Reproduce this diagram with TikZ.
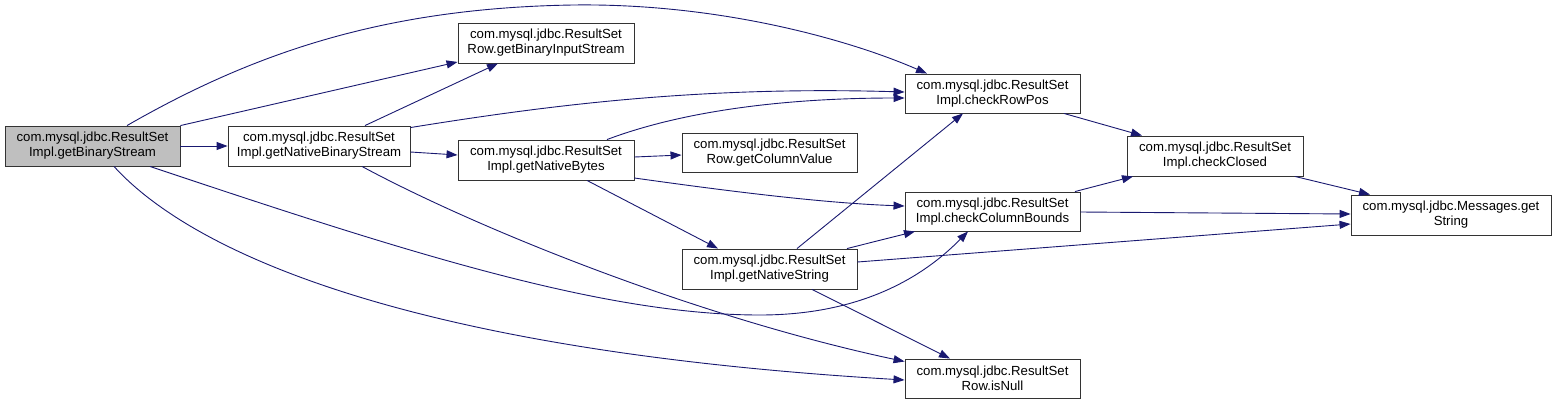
\documentclass[tikz,border=0pt]{standalone}
\usepackage{fontspec}
\setmainfont{Liberation Sans}
\usetikzlibrary{arrows.meta}
\definecolor{edgeblue}{HTML}{191970}
\definecolor{nodegray}{HTML}{BFBFBF}
\begin{document}
\begin{tikzpicture}[x=1pt,y=-1pt,
  fn/.style={draw=black!80, line width=0.9pt, fill=white, minimum height=40pt, inner sep=0pt, align=center, font=\fontsize{13.2}{15}\selectfont},
  edge/.style={draw=edgeblue, line width=0.9pt, -{Triangle[length=11pt,width=8pt]}}]
\useasboundingbox (0,0) rectangle (1556,405);

% nodes
\node[fn, fill=nodegray, minimum width=175pt] (A) at (92.5,146) {com.mysql.jdbc.ResultSet\\Impl.getBinaryStream};
\node[fn, minimum width=182pt] (B) at (319,146) {com.mysql.jdbc.ResultSet\\Impl.getNativeBinaryStream};
\node[fn, minimum width=176pt] (C) at (546,43) {com.mysql.jdbc.ResultSet\\Row.getBinaryInputStream};
\node[fn, minimum width=176pt] (D) at (546,160) {com.mysql.jdbc.ResultSet\\Impl.getNativeBytes};
\node[fn, minimum width=175pt, minimum height=39pt] (E) at (769.5,152.5) {com.mysql.jdbc.ResultSet\\Row.getColumnValue};
\node[fn, minimum width=175pt, minimum height=39pt] (F) at (992.5,93.5) {com.mysql.jdbc.ResultSet\\Impl.checkRowPos};
\node[fn, minimum width=176pt] (G) at (1215,156) {com.mysql.jdbc.ResultSet\\Impl.checkClosed};
\node[fn, minimum width=175pt, minimum height=39pt] (H) at (992.5,211.5) {com.mysql.jdbc.ResultSet\\Impl.checkColumnBounds};
\node[fn, minimum width=200pt] (I) at (1451,215) {com.mysql.jdbc.Messages.get\\String};
\node[fn, minimum width=175pt] (J) at (769.5,269) {com.mysql.jdbc.ResultSet\\Impl.getNativeString};
\node[fn, minimum width=175pt, minimum height=39pt] (K) at (992.5,378.5) {com.mysql.jdbc.ResultSet\\Row.isNull};

% edges from getBinaryStream
\draw[edge] (A.north east) -- ([yshift=1.5pt]C.south west);
\draw[edge] ([xshift=34.5pt]A.north) .. controls (250,55) and (380,8) .. (573,5) .. controls (720,3) and (850,40) .. ([xshift=-65.5pt]F.north);
\draw[edge] (A.east) -- (B.west);
\draw[edge] ([xshift=57.5pt]A.south) .. controls (400,250) and (600,315) .. (760,315) .. controls (870,315) and (930,270) .. ([xshift=-24.5pt]H.south);
\draw[edge] ([xshift=21.5pt]A.south) .. controls (190,250) and (400,350) .. ([yshift=-1.5pt]K.west);

% edges from getNativeBinaryStream
\draw[edge] ([xshift=46pt]B.north) -- ([xshift=-48pt]C.south);
\draw[edge] ([yshift=-2pt]B.north east) .. controls (550,105) and (700,86) .. ([yshift=1.5pt]F.west);
\draw[edge] ([yshift=-6pt]B.east) -- ([yshift=5pt]D.west);
\draw[edge] ([xshift=43pt]B.south) .. controls (480,230) and (700,318) .. ([yshift=17pt]K.west);

% edges from getNativeBytes
\draw[edge] ([xshift=61pt]D.north) .. controls (680,112) and (780,98) .. ([yshift=-4.5pt]F.west);
\draw[edge] ([yshift=3pt]D.east) -- ([yshift=-2.5pt]E.west);
\draw[edge] ([yshift=-18pt]D.east) .. controls (720,190) and (820,203) .. ([yshift=5.5pt]H.west);
\draw[edge] ([xshift=41pt]D.south) -- ([xshift=-51.5pt]J.north);

% edges from getNativeString
\draw[edge] ([xshift=27.5pt]J.north) -- ([xshift=-29.5pt]F.south);
\draw[edge] ([xshift=77.5pt]J.north) -- ([xshift=-77.5pt]H.south);
\draw[edge] ([yshift=7pt]J.east) -- ([yshift=-9pt]I.west);
\draw[edge] ([xshift=42.5pt]J.south) -- ([xshift=-42.5pt]K.north);

% remaining edges
\draw[edge] ([xshift=71.5pt]F.south) -- ([xshift=-73pt]G.north);
\draw[edge] ([xshift=82.5pt]H.north) -- ([xshift=-82pt]G.south);
\draw[edge] ([yshift=-0.5pt]H.east) -- ([yshift=1pt]I.west);
\draw[edge] ([xshift=80pt]G.south) -- ([xshift=-81pt]I.north);
\end{tikzpicture}
\end{document}
